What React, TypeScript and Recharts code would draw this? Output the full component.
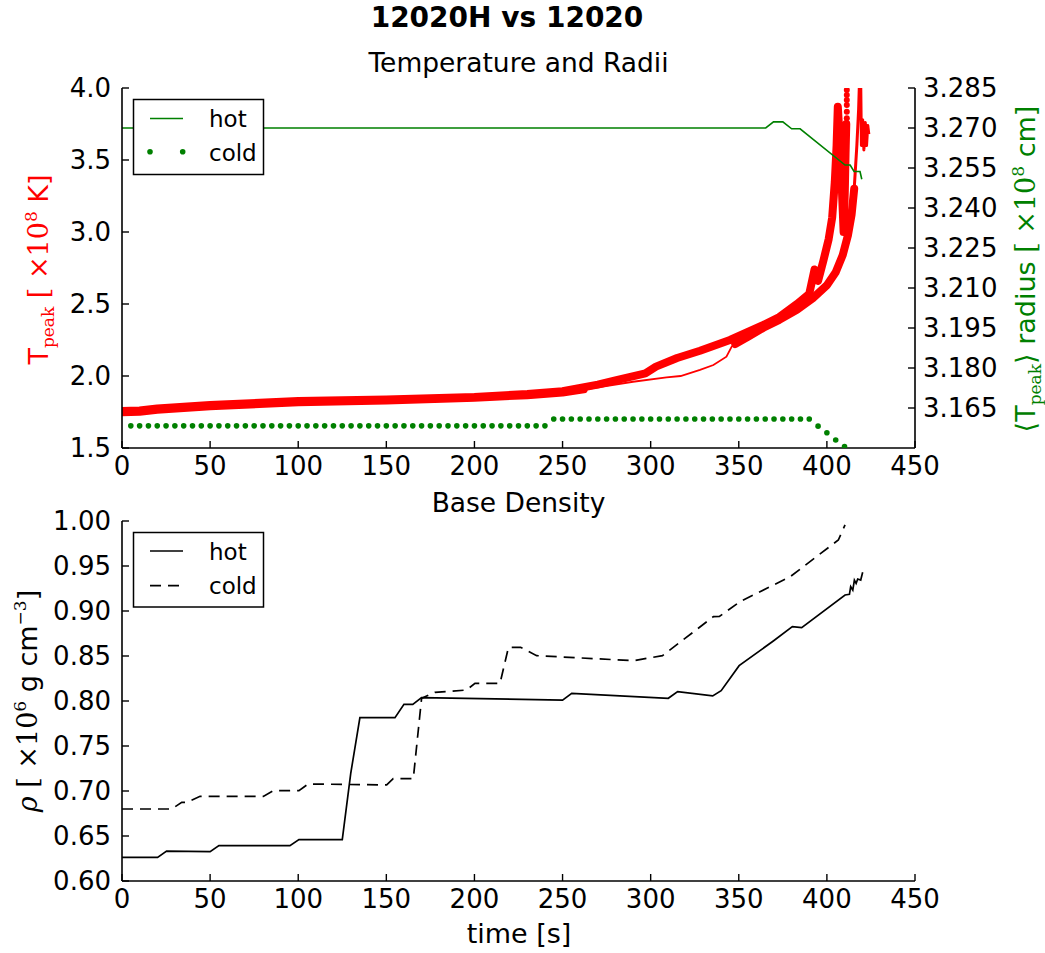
import React from 'react';
import { ComposedChart, Line, XAxis, YAxis } from 'recharts';

// ---------- tick labels ----------
const timeTicks = [0, 50, 100, 150, 200, 250, 300, 350, 400, 450];
const tempTicks = [1.5, 2.0, 2.5, 3.0, 3.5, 4.0];
const radiusTicks = [3.165, 3.18, 3.195, 3.21, 3.225, 3.24, 3.255, 3.27, 3.285];
const densityTicks = [0.6, 0.65, 0.7, 0.75, 0.8, 0.85, 0.9, 0.95, 1.0];

// ---------- Temperature: cold (dense dotted band) ----------
const coldTempTime = [0, 10, 20, 50, 100, 150, 200, 230, 250, 270, 280, 297, 303, 315, 328, 345, 364, 373, 383, 390, 393, 395, 398, 401, 403, 404.5, 405.5, 406.2, 407.5, 408.5, 409.5, 410.2, 410.6, 411];
const coldTempPeak = [1.757, 1.76, 1.775, 1.798, 1.826, 1.836, 1.855, 1.875, 1.895, 1.94, 1.97, 2.018, 2.065, 2.125, 2.175, 2.25, 2.355, 2.41, 2.5, 2.57, 2.74, 2.66, 2.8, 2.95, 3.1, 3.35, 3.6, 3.87, 3.6, 3.3, 3.0, 3.3, 3.55, 3.75];
// sparse points at the top of the cold run
const coldTempTopTime = [411.3, 411.3, 411.3, 411.3, 411.3, 411.3, 411.3];
const coldTempTopPeak = [3.755, 3.79, 3.835, 3.882, 3.917, 3.951, 3.986];

// ---------- Temperature: hot ----------
const hotTempEarlyTime = [0, 10, 20, 50, 100, 150, 200, 230, 250, 262];
const hotTempEarlyPeak = [1.748, 1.751, 1.765, 1.79, 1.818, 1.83, 1.849, 1.867, 1.885, 1.908];
const hotTempGapTime = [262, 290, 309, 317, 328, 335.6, 343, 346, 348];
const hotTempGapPeak = [1.906, 1.96, 1.99, 2.0, 2.042, 2.076, 2.134, 2.204, 2.222];
const hotTempLateTime = [348, 355, 364, 373, 383, 392, 400, 405, 409, 412, 414, 415.5];
const hotTempLatePeak = [2.222, 2.27, 2.335, 2.39, 2.46, 2.54, 2.63, 2.72, 2.84, 2.98, 3.12, 3.3];
const hotTempTailTime = [415.5, 417, 418, 419, 419.6, 420.3, 421, 421.8, 422.5, 423.2, 423.8];
const hotTempTailPeak = [3.3, 3.6, 3.85, 4.25, 3.6, 3.78, 3.57, 3.76, 3.6, 3.74, 3.68];

// ---------- Radius ----------
const hotRadiusTime = [0, 365.3, 369.7, 375, 380, 384.8, 410.3, 413.2, 415.4, 418.8, 419.8];
const hotRadius = [3.27, 3.27, 3.2723, 3.2723, 3.2697, 3.2697, 3.2561, 3.2561, 3.2537, 3.2537, 3.2508];
const coldRadiusTime = [
  5, 10, 15, 20, 25, 30, 35, 40, 45, 50, 55, 60, 65, 70, 75, 80, 85, 90, 95, 100,
  105, 110, 115, 120, 125, 130, 135, 140, 145, 150, 155, 160, 165, 170, 175, 180, 185, 190, 195, 200,
  205, 210, 215, 220, 225, 230, 235, 240, 245, 250, 255, 260, 265, 270, 275, 280, 285, 290, 295, 300,
  305, 310, 315, 320, 325, 330, 335, 340, 345, 350, 355, 360, 365, 370, 375, 380, 385, 390, 395, 400,
  405, 410,
];
const coldRadius = [
  3.1583, 3.1583, 3.1583, 3.1583, 3.1583, 3.1583, 3.1583, 3.1583, 3.1583, 3.1583,
  3.1583, 3.1583, 3.1583, 3.1583, 3.1583, 3.1583, 3.1583, 3.1583, 3.1583, 3.1583,
  3.1583, 3.1583, 3.1583, 3.1583, 3.1583, 3.1583, 3.1583, 3.1583, 3.1583, 3.1583,
  3.1583, 3.1583, 3.1583, 3.1583, 3.1583, 3.1583, 3.1583, 3.1583, 3.1583, 3.1583,
  3.1583, 3.1583, 3.1583, 3.1583, 3.1583, 3.1583, 3.1583, 3.1583,
  3.1609, 3.1609, 3.1609, 3.1609, 3.1609, 3.1609, 3.1609, 3.1609, 3.1609, 3.1609,
  3.1609, 3.1609, 3.1609, 3.1609, 3.1609, 3.1609, 3.1609, 3.1609, 3.1609, 3.1609,
  3.1609, 3.1609, 3.1609, 3.1609, 3.1609, 3.1609, 3.1609, 3.1609, 3.1609, 3.1609,
  3.1582, 3.1557, 3.153, 3.1505,
];

// ---------- Base density ----------
const hotDensityTime = [0, 20.2, 25.3, 50, 55, 95.3, 100.4, 125, 129.8, 135, 154.9, 160, 165, 170, 250, 255.2, 310, 315.3, 335.2, 340, 350.2, 369.6, 380.4, 385.7, 410.3, 412.8, 413.5, 414.7, 415.6, 416.6, 417.5, 419.2, 420.3];
const hotDensity = [0.6263, 0.6263, 0.6333, 0.6326, 0.6393, 0.6393, 0.646, 0.646, 0.7196, 0.7815, 0.7815, 0.7963, 0.7963, 0.8037, 0.801, 0.8085, 0.803, 0.8104, 0.8056, 0.8115, 0.8393, 0.8667, 0.8826, 0.8815, 0.9178, 0.9185, 0.927, 0.9233, 0.9344, 0.9307, 0.9355, 0.9344, 0.943];
const coldDensityTime = [0, 28.2, 33.9, 37, 44.3, 80.2, 85.9, 100.4, 105.7, 150.2, 153.9, 165.3, 170, 177.6, 195.5, 200.3, 214.5, 219.3, 226.2, 235.3, 290.2, 306.7, 335.6, 339, 350.7, 379.1, 406.5, 410.3];
const coldDensity = [0.68, 0.68, 0.6874, 0.6874, 0.6941, 0.694, 0.7004, 0.7004, 0.7078, 0.7067, 0.7137, 0.7137, 0.803, 0.8096, 0.8122, 0.8196, 0.8196, 0.8596, 0.8596, 0.8504, 0.8448, 0.8504, 0.8937, 0.894, 0.9104, 0.938, 0.9789, 0.9956];

const zip = (ts: number[], vs: number[]) => ts.map((t, i) => ({ t, v: vs[i] }));

const RED = '#ff0000';
const GREEN = '#008000';
const FONT = 'DejaVu Sans';
const SERIF = 'DejaVu Serif';
const tickStyle = { fill: '#000', fontSize: 26, fontFamily: FONT };
const axisLine = { stroke: '#000', strokeWidth: 1.6 };
const tickLine = { stroke: '#000', strokeWidth: 1.4 };

export default function App() {
  return (
    <div style={{ position: 'absolute', left: 0, top: 0, width: 1045, height: 953, background: '#fff', overflow: 'hidden' }}>
      {/* Top panel: Temperature and Radii */}
      <div style={{ position: 'absolute', left: 0, top: 0 }}>
        <ComposedChart width={1045} height={500} margin={{ top: 88, right: 0, bottom: 12, left: 0 }}>
          <XAxis xAxisId="b" type="number" dataKey="t" domain={[0, 450]} ticks={timeTicks} interval={0}
            height={40} tickSize={-7} tickMargin={16} tick={tickStyle} axisLine={axisLine} tickLine={tickLine} allowDataOverflow />
          <XAxis xAxisId="top" orientation="top" type="number" dataKey="t" domain={[0, 450]} ticks={timeTicks} interval={0}
            height={0} tickSize={-7} tick={false} axisLine={axisLine} tickLine={tickLine} allowDataOverflow />
          <YAxis yAxisId="T" type="number" domain={[1.5, 4.0]} ticks={tempTicks} interval={0} width={122}
            tickSize={-7} tickMargin={18} tick={tickStyle} axisLine={axisLine} tickLine={tickLine}
            tickFormatter={(v: number) => v.toFixed(1)} allowDataOverflow />
          <YAxis yAxisId="R" orientation="right" type="number" domain={[3.15, 3.285]} ticks={radiusTicks} interval={0} width={130}
            tickSize={-7} tickMargin={15} tick={tickStyle} axisLine={axisLine} tickLine={tickLine}
            tickFormatter={(v: number) => v.toFixed(3)} allowDataOverflow />

          <Line xAxisId="b" yAxisId="T" data={zip(hotTempEarlyTime, hotTempEarlyPeak)} dataKey="v" stroke={RED} strokeWidth={8}
            strokeLinejoin="round" strokeLinecap="round" dot={false} activeDot={false} isAnimationActive={false} />
          <Line xAxisId="b" yAxisId="T" data={zip(coldTempTime, coldTempPeak)} dataKey="v" stroke={RED} strokeWidth={8}
            strokeLinejoin="round" strokeLinecap="round" dot={false} activeDot={false} isAnimationActive={false} />
          <Line xAxisId="b" yAxisId="T" data={zip(coldTempTopTime, coldTempTopPeak)} dataKey="v" stroke="none"
            dot={{ r: 3, fill: RED, stroke: 'none' }} activeDot={false} isAnimationActive={false} />
          <Line xAxisId="b" yAxisId="T" data={zip(hotTempGapTime, hotTempGapPeak)} dataKey="v" stroke={RED} strokeWidth={1.8}
            dot={false} activeDot={false} isAnimationActive={false} />
          <Line xAxisId="b" yAxisId="T" data={zip(hotTempLateTime, hotTempLatePeak)} dataKey="v" stroke={RED} strokeWidth={8}
            strokeLinejoin="round" strokeLinecap="round" dot={false} activeDot={false} isAnimationActive={false} />
          <Line xAxisId="b" yAxisId="T" data={zip(hotTempTailTime, hotTempTailPeak)} dataKey="v" stroke={RED} strokeWidth={3}
            strokeLinejoin="round" dot={false} activeDot={false} isAnimationActive={false} />

          <Line xAxisId="b" yAxisId="R" data={zip(hotRadiusTime, hotRadius)} dataKey="v" stroke={GREEN} strokeWidth={1.6}
            dot={false} activeDot={false} isAnimationActive={false} />
          <Line xAxisId="b" yAxisId="R" data={zip(coldRadiusTime, coldRadius)} dataKey="v" stroke="none"
            dot={{ r: 2.8, fill: GREEN, stroke: 'none' }} activeDot={false} isAnimationActive={false} />
        </ComposedChart>
      </div>

      {/* Bottom panel: Base Density */}
      <div style={{ position: 'absolute', left: 0, top: 0 }}>
        <ComposedChart width={1045} height={953} margin={{ top: 521, right: 130, bottom: 32, left: 0 }}>
          <XAxis xAxisId="b" type="number" dataKey="t" domain={[0, 450]} ticks={timeTicks} interval={0}
            height={40} tickSize={-7} tickMargin={16} tick={tickStyle} axisLine={axisLine} tickLine={tickLine} allowDataOverflow />
          <XAxis xAxisId="top" orientation="top" type="number" dataKey="t" domain={[0, 450]} ticks={timeTicks} interval={0}
            height={0} tickSize={-7} tick={false} axisLine={axisLine} tickLine={tickLine} allowDataOverflow />
          <YAxis yAxisId="D" type="number" domain={[0.6, 1.0]} ticks={densityTicks} interval={0} width={122}
            tickSize={-7} tickMargin={18} tick={tickStyle} axisLine={axisLine} tickLine={tickLine}
            tickFormatter={(v: number) => v.toFixed(2)} allowDataOverflow />
          <YAxis yAxisId="M" orientation="right" type="number" domain={[0.6, 1.0]} ticks={densityTicks} interval={0} width={0}
            tickSize={-7} tick={false} axisLine={axisLine} tickLine={tickLine} allowDataOverflow />

          <Line xAxisId="b" yAxisId="D" data={zip(hotDensityTime, hotDensity)} dataKey="v" stroke="#000" strokeWidth={1.7}
            dot={false} activeDot={false} isAnimationActive={false} />
          <Line xAxisId="b" yAxisId="D" data={zip(coldDensityTime, coldDensity)} dataKey="v" stroke="#000" strokeWidth={1.7}
            strokeDasharray="11 7" dot={false} activeDot={false} isAnimationActive={false} />
        </ComposedChart>
      </div>

      {/* Titles, axis labels, legends */}
      <svg width={1045} height={953} style={{ position: 'absolute', left: 0, top: 0, pointerEvents: 'none' }}>
        <text x={507} y={27} textAnchor="middle" fontFamily={FONT} fontWeight="bold" fontSize={28} fill="#000">12020H vs 12020</text>
        <text x={518.5} y={72} textAnchor="middle" fontFamily={FONT} fontSize={26.5} fill="#000">Temperature and Radii</text>
        <text x={518.5} y={512} textAnchor="middle" fontFamily={FONT} fontSize={26.5} fill="#000">Base Density</text>
        <text x={519} y={943} textAnchor="middle" fontFamily={FONT} fontSize={27} fill="#000">time [s]</text>

        <text transform="translate(48,269.5) rotate(-90)" textAnchor="middle" fontSize={27} fill={RED}>
          <tspan fontFamily={FONT}>T</tspan>
          <tspan fontFamily={SERIF} fontSize={17} dy={6}>peak</tspan>
          <tspan fontFamily={SERIF} dy={-6}> [ ×10</tspan>
          <tspan fontFamily={SERIF} fontSize={17} dy={-11}>8</tspan>
          <tspan fontFamily={FONT} dy={11}>  K]</tspan>
        </text>

        <text transform="translate(1035,269) rotate(-90)" textAnchor="middle" fontSize={27} fill={GREEN}>
          <tspan fontFamily={FONT}>⟨T</tspan>
          <tspan fontFamily={SERIF} fontSize={17} dy={6}>peak</tspan>
          <tspan fontFamily={FONT} dy={-6}>⟩ radius </tspan>
          <tspan fontFamily={SERIF}>[ ×10</tspan>
          <tspan fontFamily={SERIF} fontSize={17} dy={-11}>8</tspan>
          <tspan fontFamily={FONT} dy={11}>  cm]</tspan>
        </text>

        <text transform="translate(37,701) rotate(-90)" textAnchor="middle" fontSize={27} fill="#000">
          <tspan fontFamily={SERIF} fontStyle="italic">ρ</tspan>
          <tspan fontFamily={SERIF}> [ ×10</tspan>
          <tspan fontFamily={SERIF} fontSize={17} dy={-11}>6</tspan>
          <tspan fontFamily={FONT} dy={11}>  g cm</tspan>
          <tspan fontFamily={SERIF} fontSize={17} dy={-11}>−3</tspan>
          <tspan fontFamily={FONT} dy={11}>]</tspan>
        </text>

        {/* legend top */}
        <rect x={133.5} y={99.5} width={130} height={75} fill="#fff" stroke="#000" strokeWidth={1.5} />
        <line x1={150} x2={183} y1={118.5} y2={118.5} stroke={GREEN} strokeWidth={1.6} />
        <text x={209} y={127} fontFamily={FONT} fontSize={23} fill="#000">hot</text>
        <circle cx={150} cy={151.7} r={2.8} fill={GREEN} />
        <circle cx={182.7} cy={151.7} r={2.8} fill={GREEN} />
        <text x={209} y={161} fontFamily={FONT} fontSize={23} fill="#000">cold</text>

        {/* legend bottom */}
        <rect x={133.5} y={532.5} width={130} height={74.5} fill="#fff" stroke="#000" strokeWidth={1.5} />
        <line x1={150} x2={183} y1={551} y2={551} stroke="#000" strokeWidth={1.7} />
        <text x={209} y={559.5} fontFamily={FONT} fontSize={23} fill="#000">hot</text>
        <line x1={150} x2={183} y1={585.7} y2={585.7} stroke="#000" strokeWidth={1.7} strokeDasharray="11 7" />
        <text x={209} y={593.5} fontFamily={FONT} fontSize={23} fill="#000">cold</text>
      </svg>
    </div>
  );
}
